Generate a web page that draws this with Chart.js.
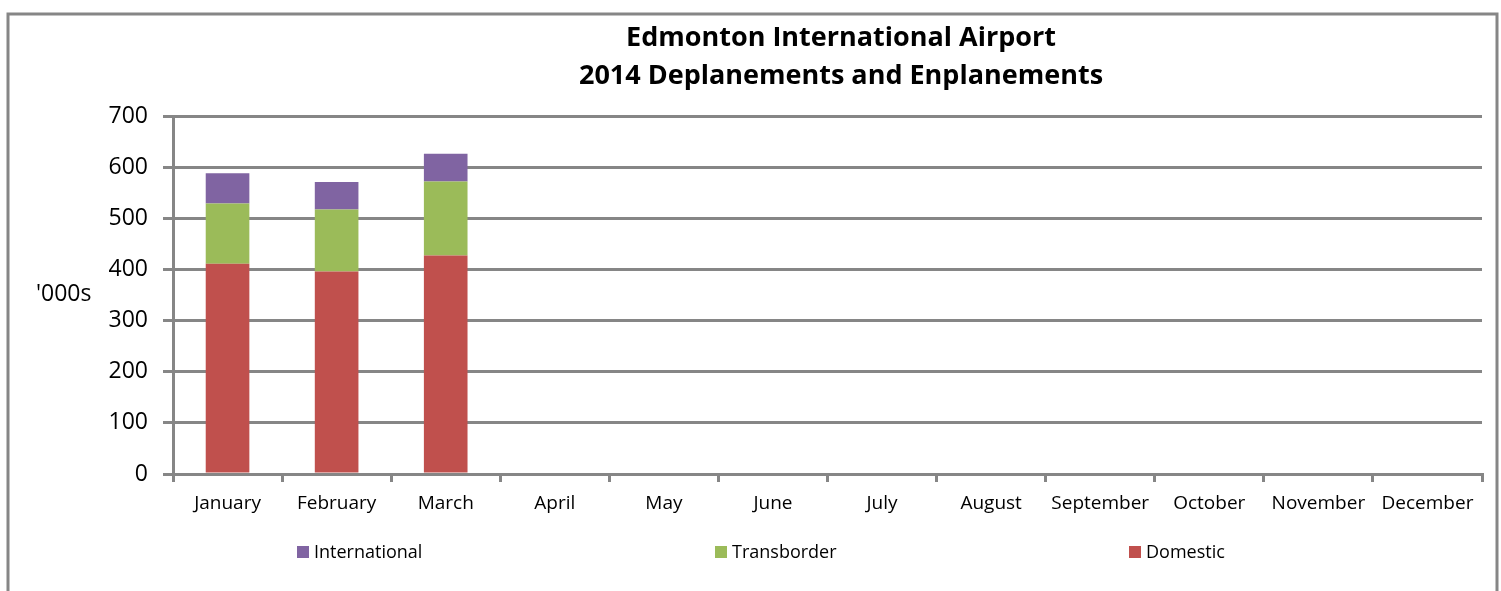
<!DOCTYPE html>
<html>
<head>
<meta charset="utf-8">
<script src="https://cdn.jsdelivr.net/npm/chart.js@4/dist/chart.umd.min.js"></script>
<style>
  html, body { margin: 0; padding: 0; background: #fff; }
  #wrap { width: 1501px; height: 591px; position: relative; }
</style>
</head>
<body>
<div id="wrap"><canvas id="chart" width="1501" height="591"></canvas></div>
<script>
/* ── Data ─────────────────────────────────────────────── */
const months        = ["January", "February", "March", "April", "May", "June",
                       "July", "August", "September", "October", "November", "December"];
const domestic      = [411, 396, 427, null, null, null, null, null, null, null, null, null];
const transborder   = [118, 121, 145, null, null, null, null, null, null, null, null, null];
const international = [59, 54, 54, null, null, null, null, null, null, null, null, null];
const yTicks        = [0, 100, 200, 300, 400, 500, 600, 700];
const titleLines    = ["Edmonton International Airport", "2014 Deplanements and Enplanements"];

const GRID = "#868686";
const FONT = "'Open Sans', 'DejaVu Sans', sans-serif";

/* ── Frame, title, axis label and legend ──────────────── */
const decorPlugin = {
  id: "decor",
  afterDraw(chart) {
    const c = chart.ctx;
    c.save();

    // outer frame (bottom is cut off in the original)
    c.strokeStyle = GRID;
    c.lineWidth = 3;
    c.beginPath();
    c.moveTo(8, 600);
    c.lineTo(8, 14);
    c.lineTo(1497, 14);
    c.lineTo(1497, 600);
    c.stroke();

    // title
    c.fillStyle = "#000";
    c.font = "bold 27px " + FONT;
    c.textAlign = "center";
    c.textBaseline = "middle";
    c.fillText(titleLines[0], 841, 38);
    c.fillText(titleLines[1], 841, 76);

    // y label
    c.font = "23px " + FONT;
    c.textAlign = "left";
    c.fillText("'000s", 36, 294);

    // legend, drawn in the original's order
    const slots = [
      { ds: 2, x: 297 },
      { ds: 1, x: 715 },
      { ds: 0, x: 1129 },
    ];
    c.font = "18px " + FONT;
    slots.forEach(s => {
      const ds = chart.data.datasets[s.ds];
      c.fillStyle = ds.backgroundColor;
      c.fillRect(s.x, 546, 12, 12);
      c.fillStyle = "#000";
      c.fillText(ds.label, s.x + 17, 553);
    });

    c.restore();
  }
};

/* ── Chart ────────────────────────────────────────────── */
new Chart(document.getElementById("chart"), {
  type: "bar",
  data: {
    labels: months,
    datasets: [
      { label: "Domestic",      data: domestic,      backgroundColor: "#c0504d" },
      { label: "Transborder",   data: transborder,   backgroundColor: "#9bbb59" },
      { label: "International", data: international, backgroundColor: "#8064a2" },
    ],
  },
  options: {
    responsive: false,
    animation: false,
    devicePixelRatio: 1,
    layout: { padding: { left: 0, right: 19, top: 116, bottom: 0 } },
    plugins: { legend: { display: false }, title: { display: false }, tooltip: { enabled: false } },
    datasets: { bar: { barPercentage: 0.4, categoryPercentage: 1.0, borderWidth: 0 } },
    scales: {
      x: {
        stacked: true,
        afterFit: s => { s.height = 117; },
        grid: { drawOnChartArea: false, drawTicks: true, tickLength: 8, offset: true,
                color: GRID, lineWidth: 3 },
        border: { color: GRID, width: 3 },
        ticks: { color: "#000", font: { family: FONT, size: 19 }, padding: 10, maxRotation: 0 },
      },
      y: {
        stacked: true,
        min: 0,
        max: 700,
        afterFit: s => { s.width = 173; },
        afterBuildTicks: s => { s.ticks = yTicks.map(v => ({ value: v })); },
        grid: { color: GRID, lineWidth: 3, drawTicks: true, tickLength: 10 },
        border: { color: GRID, width: 3 },
        ticks: { color: "#000", font: { family: FONT, size: 23 }, padding: 15 },
      },
    },
  },
  plugins: [decorPlugin],
});
</script>
</body>
</html>
